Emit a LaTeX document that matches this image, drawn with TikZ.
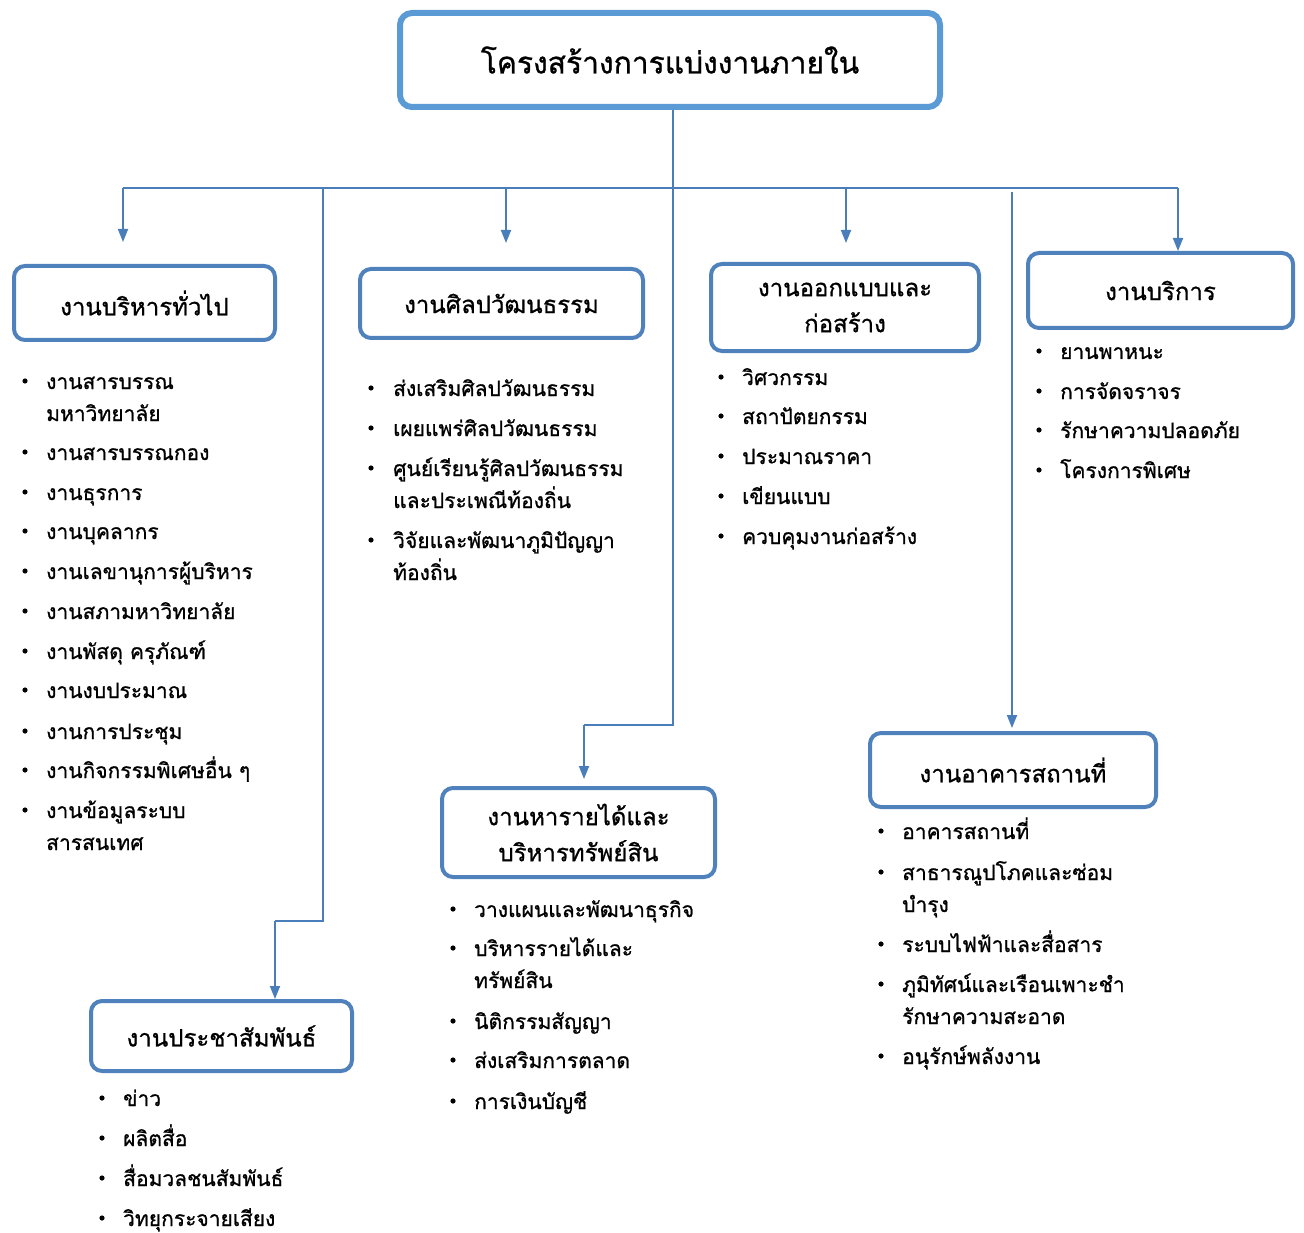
\documentclass[tikz,border=0pt]{standalone}
\usepackage{fontspec}
\newfontfamily\thai[Script=Thai,FakeBold=0.9]{Loma}
\usetikzlibrary{arrows.meta}
\definecolor{topblue}{HTML}{5B9BD5}
\definecolor{boxblue}{HTML}{4F81BD}
\definecolor{lineblue}{HTML}{4A7EBB}
\tikzset{
  topbox/.style={draw=topblue, line width=6pt, rounded corners=12pt, fill=white, font=\thai\fontsize{30}{40}\selectfont, align=center, inner sep=0pt},
  unitbox/.style={draw=boxblue, line width=4pt, rounded corners=11pt, fill=white, font=\thai\fontsize{24}{36}\selectfont, align=center, inner sep=0pt},
  conn/.style={draw=lineblue, line width=1.8pt},
  arr/.style={conn, -{Triangle[width=10pt,length=13pt]}},
  item/.style={anchor=base west, font=\thai\fontsize{21}{32}\selectfont, align=left, inner sep=0pt},
  dot/.style={fill=black},
}
\begin{document}
\begin{tikzpicture}[x=1pt,y=1pt]
\useasboundingbox (0,0) rectangle (1304,-1233);
% boxes
\node[topbox, minimum width=540pt, minimum height=94pt] (top) at (670,-60) {โครงสร้างการแบ่งงานภายใน};
\node[unitbox, minimum width=261pt, minimum height=74pt] (b1) at (144.5,-303) {งานบริหารทั่วไป};
\node[unitbox, minimum width=283pt, minimum height=69pt] (b2) at (501.5,-303.5) {งานศิลปวัฒนธรรม};
\node[unitbox, minimum width=268pt, minimum height=87pt] (b3) at (845,-307.5) {งานออกแบบและ\\ก่อสร้าง};
\node[unitbox, minimum width=265pt, minimum height=75pt] (b4) at (1160.5,-290.5) {งานบริการ};
\node[unitbox, minimum width=273pt, minimum height=89pt] (b5) at (578.5,-832.5) {งานหารายได้และ\\บริหารทรัพย์สิน};
\node[unitbox, minimum width=286pt, minimum height=74pt] (b6) at (1013,-770) {งานอาคารสถานที่};
\node[unitbox, minimum width=261pt, minimum height=70pt] (b7) at (221.5,-1036) {งานประชาสัมพันธ์};
% connectors
\coordinate (j0) at (673,-188);
\coordinate (hL) at (123,-188);
\coordinate (hR) at (1178,-188);
\coordinate (a1) at (123,-242);
\coordinate (x2) at (506,-188);
\coordinate (a2) at (506,-243);
\coordinate (x3) at (846,-188);
\coordinate (a3) at (846,-243);
\coordinate (p1) at (323,-188);
\coordinate (p2) at (323,-921);
\coordinate (p3) at (275,-921);
\coordinate (r1) at (673,-725);
\coordinate (r2) at (584,-725);
\coordinate (r3) at (584,-779);
\coordinate (f1) at (1012,-192);
\coordinate (f2) at (1012,-728);
\draw[conn] (top.south -| j0) -- (r1) -- (r2);
\draw[arr] (r2) -- (r3);
\draw[conn] (hL) -- (hR);
\draw[arr] (hL) -- (a1);
\draw[arr] (x2) -- (a2);
\draw[arr] (x3) -- (a3);
\draw[arr] (hR) -- (b4.north -| hR);
\draw[conn] (p1) -- (p2) -- (p3);
\draw[arr] (p3) -- (b7.north -| p3);
\draw[arr] (f1) -- (f2);
% lists (y = first baseline, n = extra lines)
% column 1
\foreach \y/\n/\t in {389/1/{งานสารบรรณ\\มหาวิทยาลัย}, 460/0/งานสารบรรณกอง, 500/0/งานธุรการ, 539/0/งานบุคลากร, 579/0/งานเลขานุการผู้บริหาร, 619/0/งานสภามหาวิทยาลัย, 659/0/งานพัสดุ ครุภัณฑ์, 698/0/งานงบประมาณ, 739/0/งานการประชุม, 778/0/งานกิจกรรมพิเศษอื่น ๆ, 818/1/{งานข้อมูลระบบ\\สารสนเทศ}}
  {\fill[dot] (25,-\y+8) circle (2.6pt); \node[item] at (46,-\y-32*\n) {\t};}
% column 2
\foreach \y/\n/\t in {396/0/ส่งเสริมศิลปวัฒนธรรม, 436/0/เผยแพร่ศิลปวัฒนธรรม, 476/1/{ศูนย์เรียนรู้ศิลปวัฒนธรรม\\และประเพณีท้องถิ่น}, 548/1/{วิจัยและพัฒนาภูมิปัญญา\\ท้องถิ่น}}
  {\fill[dot] (371,-\y+8) circle (2.6pt); \node[item] at (393,-\y-32*\n) {\t};}
% column 3
\foreach \y/\n/\t in {385/0/วิศวกรรม, 424/0/สถาปัตยกรรม, 464/0/ประมาณราคา, 504/0/เขียนแบบ, 544/0/ควบคุมงานก่อสร้าง}
  {\fill[dot] (721,-\y+8) circle (2.6pt); \node[item] at (742,-\y-32*\n) {\t};}
% column 4
\foreach \y/\n/\t in {359/0/ยานพาหนะ, 399/0/การจัดจราจร, 438/0/รักษาความปลอดภัย, 478/0/โครงการพิเศษ}
  {\fill[dot] (1039,-\y+8) circle (2.6pt); \node[item] at (1060,-\y-32*\n) {\t};}
% column 5
\foreach \y/\n/\t in {917/0/วางแผนและพัฒนาธุรกิจ, 956/1/{บริหารรายได้และ\\ทรัพย์สิน}, 1029/0/นิติกรรมสัญญา, 1068/0/ส่งเสริมการตลาด, 1109/0/การเงินบัญชี}
  {\fill[dot] (453,-\y+8) circle (2.6pt); \node[item] at (474,-\y-32*\n) {\t};}
% column 6
\foreach \y/\n/\t in {839/0/อาคารสถานที่, 880/1/{สาธารณูปโภคและซ่อม\\บำรุง}, 952/0/ระบบไฟฟ้าและสื่อสาร, 992/1/{ภูมิทัศน์และเรือนเพาะชำ\\รักษาความสะอาด}, 1064/0/อนุรักษ์พลังงาน}
  {\fill[dot] (881,-\y+8) circle (2.6pt); \node[item] at (902,-\y-32*\n) {\t};}
% column 7
\foreach \y/\n/\t in {1106/0/ข่าว, 1146/0/ผลิตสื่อ, 1186/0/สื่อมวลชนสัมพันธ์, 1226/0/วิทยุกระจายเสียง}
  {\fill[dot] (102,-\y+8) circle (2.6pt); \node[item] at (123,-\y-32*\n) {\t};}
\end{tikzpicture}
\end{document}
